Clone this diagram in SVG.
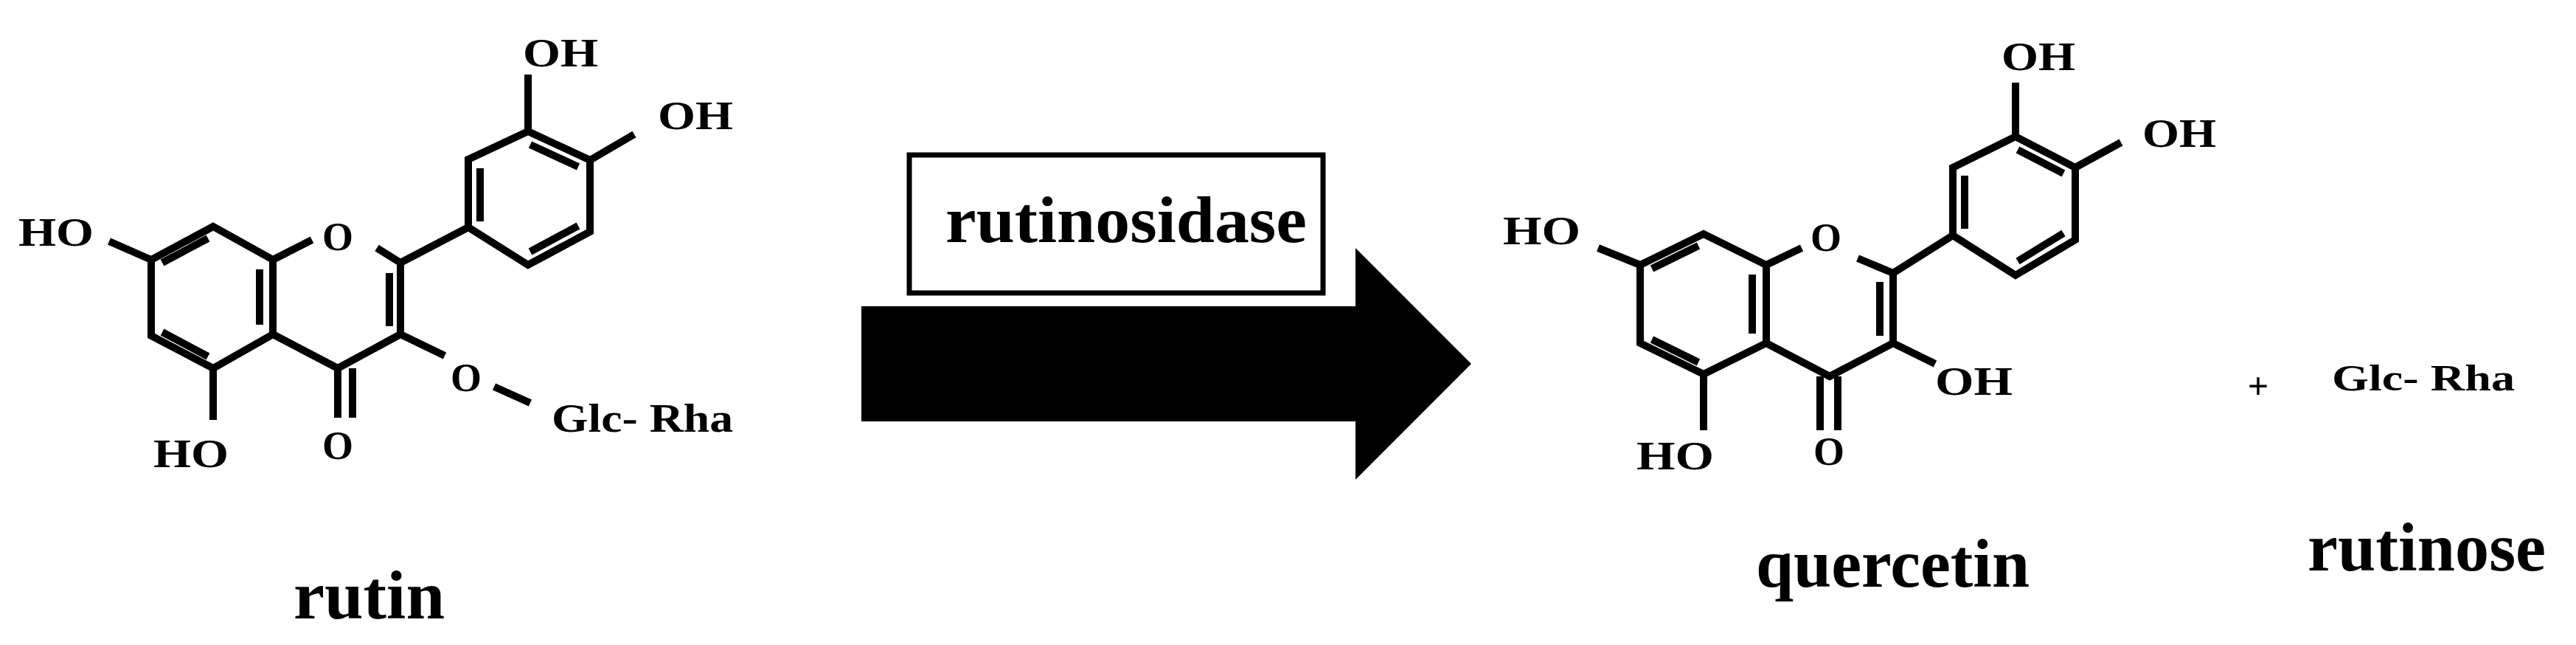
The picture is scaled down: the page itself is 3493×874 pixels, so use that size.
<svg xmlns="http://www.w3.org/2000/svg" width="3493" height="874" viewBox="0 0 3493 874">
<style>
.b{stroke:#000;stroke-width:10;fill:none;stroke-linecap:butt;stroke-linejoin:miter}
.t{font-family:"Liberation Serif","Times New Roman",serif;font-weight:bold;fill:#000}
.a{font-size:54px}
.l{font-size:94px}
</style>
<rect width="3493" height="874" fill="#fff"/>
<g id="rutin">
<path class="b" d="M289,307 L205,352 L205,455 L289,499 L370,453 L370,352 Z"/>
<path class="b" d="M282,323 L220,356 M220,450 L282,483 M352,365 L352,440"/>
<path class="b" d="M205,352 L148,327 M289,499 L289,569"/>
<path class="b" d="M370,352 L423,325 M511,336 L543,356 L543,453 L458,499 L370,453 M528,370 L528,442"/>
<path class="b" d="M458,499 L458,566 M478,499 L478,566"/>
<path class="b" d="M543,453 L603,482 M670,524 L719,546 M543,356 L635,308"/>
<path class="b" d="M635,308 L635,216 L716,178 L800,217 L800,314 L716,359 Z M651,228 L651,300 M719,196 L784,226 M784,306 L719,341"/>
<path class="b" d="M716,178 L716,101 M800,217 L860,182"/>
<text class="t a" x="25" y="333" textLength="102" lengthAdjust="spacingAndGlyphs">HO</text>
<text class="t a" x="208" y="633" textLength="102" lengthAdjust="spacingAndGlyphs">HO</text>
<text class="t a" x="458" y="339" text-anchor="middle">O</text>
<text class="t a" x="458" y="622" text-anchor="middle">O</text>
<text class="t a" x="632" y="530" text-anchor="middle">O</text>
<text class="t a" x="709" y="90" textLength="102" lengthAdjust="spacingAndGlyphs">OH</text>
<text class="t a" x="892" y="175" textLength="102" lengthAdjust="spacingAndGlyphs">OH</text>
<text class="t a" x="748" y="585" textLength="246" lengthAdjust="spacingAndGlyphs">Glc- Rha</text>
<text class="t l" x="398" y="838" textLength="205" lengthAdjust="spacingAndGlyphs">rutin</text>
</g>
<g id="enzyme">
<rect x="1233" y="210" width="561" height="187" fill="#fff" stroke="#000" stroke-width="7"/>
<text class="t" x="1282" y="328" font-size="88" textLength="490" lengthAdjust="spacingAndGlyphs">rutinosidase</text>
</g>
<g id="connectors">
<path d="M1168,415 L1838,415 L1838,336 L1995,493 L1838,650 L1838,571 L1168,571 Z" fill="#000"/>
</g>
<g id="quercetin">
<path class="b" d="M2310,317 L2224,359 L2224,465 L2310,507 L2395,465 L2395,359 Z"/>
<path class="b" d="M2303,333 L2240,364 M2240,460 L2303,491 M2376,372 L2376,452"/>
<path class="b" d="M2224,359 L2167,336 M2310,507 L2310,583"/>
<path class="b" d="M2395,359 L2443,336 M2519,350 L2567,370 L2567,465 L2481,510 L2395,465 M2549,382 L2549,455"/>
<path class="b" d="M2468,510 L2468,583 M2492,510 L2492,583"/>
<path class="b" d="M2567,465 L2624,493 M2567,370 L2648,319"/>
<path class="b" d="M2648,319 L2648,227 L2733,185 L2814,227 L2814,325 L2733,373 Z M2664,238 L2664,310 M2736,203 L2798,235 M2798,316 L2736,354"/>
<path class="b" d="M2733,185 L2733,112 M2814,227 L2876,193"/>
<text class="t a" x="2038" y="331" textLength="105" lengthAdjust="spacingAndGlyphs">HO</text>
<text class="t a" x="2219" y="636" textLength="105" lengthAdjust="spacingAndGlyphs">HO</text>
<text class="t a" x="2476" y="340" text-anchor="middle">O</text>
<text class="t a" x="2480" y="630" text-anchor="middle">O</text>
<text class="t a" x="2624" y="535" textLength="105" lengthAdjust="spacingAndGlyphs">OH</text>
<text class="t a" x="2714" y="95" textLength="100" lengthAdjust="spacingAndGlyphs">OH</text>
<text class="t a" x="2905" y="199" textLength="100" lengthAdjust="spacingAndGlyphs">OH</text>
<text class="t l" x="2381" y="795" textLength="371" lengthAdjust="spacingAndGlyphs">quercetin</text>
</g>
<g id="rutinose">
<text class="t" x="3062" y="540" font-size="50" text-anchor="middle">+</text>
<text class="t" x="3162" y="529" font-size="50" textLength="248" lengthAdjust="spacingAndGlyphs">Glc- Rha</text>
<text class="t l" x="3129" y="773" textLength="323" lengthAdjust="spacingAndGlyphs">rutinose</text>
</g>
</svg>
